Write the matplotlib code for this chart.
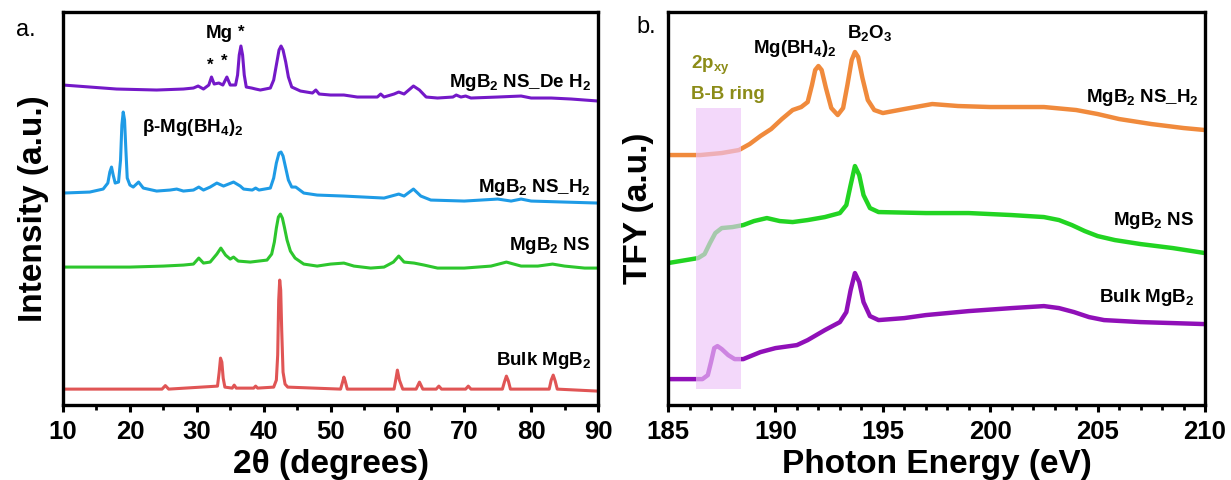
import matplotlib
matplotlib.use("Agg")
import matplotlib.pyplot as plt
from matplotlib.ticker import MultipleLocator

plt.rcParams['font.family'] = ['Liberation Sans', 'DejaVu Sans']
plt.rcParams['font.weight'] = 'bold'
plt.rcParams['mathtext.fontset'] = 'custom'
plt.rcParams['mathtext.rm'] = 'Liberation Sans:bold'
plt.rcParams['mathtext.it'] = 'Liberation Sans:bold'
plt.rcParams['mathtext.bf'] = 'Liberation Sans:bold'

# ---------------- Panel a: XRD (2theta, offset intensity; read as pixel rows) ----------------
bulk_x = [10, 20, 24.8, 25.3, 25.8, 33.1, 33.35, 33.55, 33.75, 33.95, 34.2, 35.3, 35.6, 35.9, 38.5, 38.8,
          39.1, 41.5, 41.9, 42.1, 42.25, 42.4, 42.55, 42.7, 42.9, 43.2, 43.6, 51.5, 51.8, 52, 52.2, 52.5,
          59.5, 59.8, 60.0, 60.3, 60.8, 62.8, 63.3, 63.8, 65.8, 66.2, 66.6, 70.2, 70.6, 71.0, 75.7, 76.0,
          76.3, 76.6, 76.9, 82.7, 83.0, 83.3, 83.6, 83.9, 90]
bulk_y = [389, 389, 389, 385.5, 389, 386, 372, 358, 362, 378, 387, 388, 385, 388, 388, 386,
          388, 387, 380, 355, 300, 280, 290, 330, 372, 384, 387, 389, 382, 377, 381, 389,
          389, 378, 370, 380, 389, 389, 382, 389, 389, 386, 389, 389, 386, 389, 389, 382,
          376, 381, 389, 389, 380, 375, 381, 389, 391]

ns_x = [10, 20, 25, 28, 29.5, 30.3, 31, 32, 33, 33.6, 34.3, 35, 35.5, 36.2, 38, 40.5, 41.2, 41.6, 41.9,
        42.2, 42.5, 42.8, 43.1, 43.5, 44, 44.7, 46, 48, 50, 52, 53.5, 56, 58, 59.4, 60.2, 61, 62.5, 64,
        66, 70, 74, 76.3, 78.5, 81, 83.2, 85, 88, 90]
ns_y = [267, 267, 266, 265, 264, 258, 263, 262, 254, 248, 255, 259, 257, 261, 262, 260, 254, 242, 228,
        217, 214, 218, 227, 240, 251, 258, 264, 266, 264, 263, 266, 268, 267, 262, 256, 262, 263, 265,
        268, 268, 266, 262, 266, 266, 264, 266, 268, 268]

nsh2_x = [10, 14, 16, 16.7, 17.0, 17.25, 17.5, 17.8, 18.3, 18.6, 18.8, 19.0, 19.2, 19.4, 19.6, 20.0, 20.5,
          21.3, 22, 24, 26, 27, 28, 29.5, 30.3, 31, 32, 33, 34, 35.5, 36.5, 37, 38.3, 38.8, 39.3, 41.0,
          41.5, 41.9, 42.3, 42.6, 42.9, 43.3, 43.7, 44.2, 44.8, 46, 48, 52, 55, 58, 60.2, 61, 62.4, 63.5,
          65, 70, 75, 77, 78.5, 80, 85, 90]
nsh2_y = [193, 192, 189, 183, 172, 167, 175, 183, 182, 160, 125, 112, 120, 150, 178, 185, 187,
          182, 188, 191, 190, 189, 191, 190, 187, 190, 187, 183, 186, 182, 186, 189, 190, 188, 190, 188,
          178, 163, 153, 152, 156, 168, 180, 187, 187, 193, 195, 196, 197, 198, 194, 196, 189, 196,
          200, 201, 199, 201, 199, 201, 202, 203]

deh2_x = [10, 14, 18, 24, 28, 29.5, 30.2, 31, 31.8, 32.2, 32.6, 33.3, 33.9, 34.5, 35, 35.8, 36.1, 36.35,
          36.6, 36.85, 37.1, 37.4, 38.2, 38.8, 39.5, 41.0, 41.5, 41.9, 42.3, 42.6, 42.9, 43.3, 43.7,
          44.2, 45.5, 47.3, 47.8, 48.3, 50, 52, 54, 57, 57.5, 58, 59.5, 60.2, 61, 62.4, 63.3, 64.3, 66,
          68.3, 68.8, 69.5, 70.2, 71, 75, 78.5, 80, 83, 86, 90]
deh2_y = [85, 87, 89, 90, 89, 88, 86, 89, 85, 77, 84, 83, 85, 77, 85, 85, 75, 55,
          46, 55, 75, 87, 88, 89, 90, 88, 80, 65, 50, 46, 50, 62, 77,
          87, 91, 93, 90, 94, 95, 95, 97, 97, 94, 97, 94, 92, 94, 86, 90, 97, 98,
          97, 95, 97, 96, 98, 97, 96, 98, 98, 99, 101]

# ---------------- Panel b: XAS TFY (read as pixel rows) ----------------
oh2_x = [185, 186.5, 187.5, 188.3, 188.8, 189.3, 189.8, 190.3, 190.8, 191.2, 191.5, 191.7, 191.85, 192.0,
         192.15, 192.35, 192.6, 192.9, 193.15, 193.35, 193.55, 193.7, 193.85, 194.05, 194.3, 194.6,
         195.0, 196.0, 197.3, 198.5, 200, 202.5, 204, 205, 206, 207.5, 209, 210]
oh2_y = [155, 155, 153, 150, 144, 136, 129, 119, 110, 107, 102, 85, 70, 66,
         70, 88, 108, 115, 108, 85, 60, 52, 57, 78, 100, 110,
         113, 109, 104, 106, 107, 107, 110, 114, 119, 124, 128, 130]

gns_x = [185, 186.4, 186.7, 186.95, 187.2, 187.5, 188.0, 188.5, 189, 189.6, 190.2, 190.8, 191.5, 192.3,
         193.0, 193.3, 193.5, 193.7, 193.9, 194.1, 194.4, 194.8, 197, 199, 201, 202.5, 203.2, 203.8,
         204.4, 205.0, 205.8, 207, 208.5, 210]
gns_y = [263, 258, 254, 243, 233, 228, 227, 225, 221, 218, 221, 222, 220, 217,
         213, 205, 185, 166, 175, 195, 208, 212, 213, 213, 215, 217, 220, 225,
         231, 236, 240, 244, 248, 253]

pb_x = [185, 186.6, 186.85, 187.0, 187.15, 187.3, 187.5, 187.8, 188.1, 188.5, 189.3, 190, 191, 191.5,
        192.3, 193.0, 193.3, 193.5, 193.7, 193.9, 194.1, 194.4, 194.8, 196, 197, 199, 201, 202.5,
        203.2, 203.9, 204.6, 205.3, 207, 210]
pb_y = [379, 379, 375, 362, 348, 346, 349, 355, 359, 359, 352, 348, 345, 340,
        330, 322, 312, 290, 273, 282, 302, 316, 320, 318, 315, 311, 308, 306,
        308, 312, 317, 320, 322, 324]

TOP = 405  # convert read-off pixel rows into upward intensity units


def up(vals):
    return [TOP - v for v in vals]


fig = plt.figure(figsize=(12.31, 4.80), dpi=100)
axa = fig.add_axes([0.0512, 0.156, 0.4346, 0.819])
axb = fig.add_axes([0.5427, 0.156, 0.4362, 0.819])

kw = dict(solid_joinstyle='round', solid_capstyle='round')
lw_a = 2.2
axa.plot(bulk_x, up(bulk_y), color='#E05555', lw=lw_a, **kw)
axa.plot(ns_x, up(ns_y), color='#2DC62D', lw=lw_a, **kw)
axa.plot(nsh2_x, up(nsh2_y), color='#1E9BE6', lw=lw_a, **kw)
axa.plot(deh2_x, up(deh2_y), color='#7419C8', lw=lw_a, **kw)

lw_b = 3.2
axb.plot(oh2_x, up(oh2_y), color='#F08A3C', lw=lw_b, **kw)
axb.plot(gns_x, up(gns_y), color='#22D422', lw=lw_b, **kw)
axb.plot(pb_x, up(pb_y), color='#9010B8', lw=lw_b, **kw)
axb.axvspan(186.3, 188.4, ymin=(TOP - 389) / 393, ymax=(TOP - 108) / 393,
            color='#EEC4F8', alpha=0.65, lw=0, zorder=5)

for ax in (axa, axb):
    ax.set_ylim(0, 393)
    ax.set_yticks([])
    for s in ax.spines.values():
        s.set_linewidth(2.4)
    ax.tick_params(axis='x', which='major', direction='out', length=5, width=2.2,
                   labelsize=18.5, pad=6)
    ax.tick_params(axis='x', which='minor', direction='out', length=3.5, width=2.0)

axa.set_xlim(10, 90)
axa.xaxis.set_major_locator(MultipleLocator(10))
axa.xaxis.set_minor_locator(MultipleLocator(5))
axb.set_xlim(185, 210)
axb.xaxis.set_major_locator(MultipleLocator(5))
axb.xaxis.set_minor_locator(MultipleLocator(1))

axa.set_xlabel('2θ (degrees)', fontsize=24, fontweight='bold', labelpad=3)
axa.set_ylabel('Intensity (a.u.)', fontsize=24, fontweight='bold', labelpad=10)
axb.set_xlabel('Photon Energy (eV)', fontsize=24, fontweight='bold', labelpad=3)
axb.set_ylabel('TFY (a.u.)', fontsize=24, fontweight='bold', labelpad=10)

fs = 13.5
b = 'bold'
# panel a labels
axa.text(33.4, 372, 'Mg', fontsize=fs, fontweight=b, ha='center', va='center')
axa.text(36.6, 373, '*', fontsize=12, fontweight=b, ha='center', va='center')
axa.text(32.0, 340, '*', fontsize=12, fontweight=b, ha='center', va='center')
axa.text(34.1, 344, '*', fontsize=12, fontweight=b, ha='center', va='center')
axa.text(21.8, 278, r'$\beta$-Mg(BH$_4$)$_2$', fontsize=fs, fontweight=b, ha='left', va='center')
axa.text(89.0, 323, r'MgB$_2$ NS_De H$_2$', fontsize=fs, fontweight=b, ha='right', va='center')
axa.text(89.0, 218, r'MgB$_2$ NS_H$_2$', fontsize=fs, fontweight=b, ha='right', va='center')
axa.text(88.8, 160, r'MgB$_2$ NS', fontsize=fs, fontweight=b, ha='right', va='center')
axa.text(89.0, 45, r'Bulk MgB$_2$', fontsize=fs, fontweight=b, ha='right', va='center')

# panel b labels
axb.text(190.9, 357, r'Mg(BH$_4$)$_2$', fontsize=fs, fontweight=b, ha='center', va='center')
axb.text(194.4, 372, r'B$_2$O$_3$', fontsize=fs, fontweight=b, ha='center', va='center')
axb.text(186.05, 340, r'2p$_{xy}$', fontsize=fs, fontweight=b, color='#8C8C18', ha='left', va='center')
axb.text(186.05, 311, 'B-B ring', fontsize=fs, color='#8C8C18', fontweight=b,
         ha='left', va='center')
axb.text(209.7, 308, r'MgB$_2$ NS_H$_2$', fontsize=fs, fontweight=b, ha='right', va='center')
axb.text(209.5, 185, r'MgB$_2$ NS', fontsize=fs, fontweight=b, ha='right', va='center')
axb.text(209.5, 108, r'Bulk MgB$_2$', fontsize=fs, fontweight=b, ha='right', va='center')

fig.text(16 / 1231, 1 - 30 / 480, 'a.', fontsize=17, fontweight='normal', ha='left', va='center')
fig.text(636 / 1231, 1 - 27 / 480, 'b.', fontsize=17, fontweight='normal', ha='left', va='center')

fig.savefig('out.png', dpi=100)
